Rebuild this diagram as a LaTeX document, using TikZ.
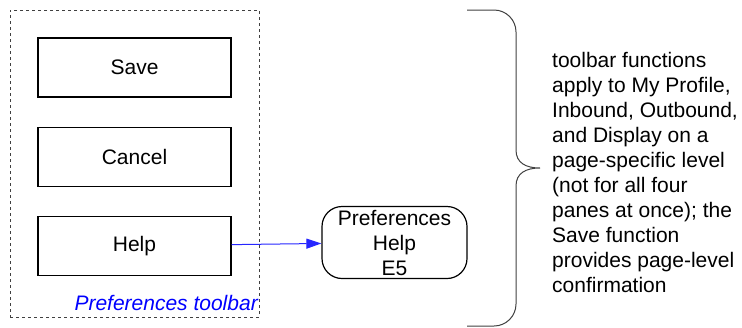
\documentclass[tikz,border=0pt]{standalone}
\usepackage{fontspec}
\setmainfont{Liberation Sans}
\usepackage{xcolor}
\usepackage{tikz}
\usetikzlibrary{arrows.meta,positioning}

\begin{document}
\begin{tikzpicture}[
    x=1pt, y=-1pt,
    node distance=29pt,
    txt/.style={font=\fontsize{21}{25}\selectfont},
    box/.style={rectangle, draw, line width=1.2pt, minimum width=193pt, minimum height=59pt, align=center, txt},
    group/.style={rectangle, draw=black!75, dashed, line width=0.8pt, minimum width=249pt, minimum height=307pt},
    rbox/.style={rectangle, draw, line width=1.2pt, rounded corners=20pt, minimum width=145pt, minimum height=72pt, inner sep=0pt, align=center, txt},
    arrow/.style={-{Triangle[length=15pt,width=10pt]}, line width=1pt, blue!85!white},
    bracestyle/.style={draw=black!75, line width=1pt}
]
\useasboundingbox (0,0) rectangle (742,327);

% Toolbar buttons
\node[group] (toolbar) at (134.5,163.5) {};
\node[box] (save) at (134.5,67.5) {Save};
\node[box, below=of save] (cancel) {Cancel};
\node[box, below=of cancel] (help) {Help};
\node[txt, text=blue, anchor=base east, inner sep=0pt] (tblabel) at (258,310) {\itshape Preferences toolbar};

% Help page
\node[rbox] (prefhelp) at (394.5,242.5) {Preferences\\Help\\E5};
\draw[arrow] (help) -- (prefhelp);

% Brace and note
\draw[bracestyle] (467,10) -- (494,10) arc[start angle=-90, end angle=0, radius=22]
    -- (516,150) .. controls (516,163) and (526,168) .. (540,168)
    .. controls (526,168) and (516,173) .. (516,186)
    -- (516,304) arc[start angle=0, end angle=90, radius=22] -- (467,326);
\node[txt, align=left, anchor=west, inner sep=0pt] (note) at (552,172) {toolbar functions\\apply to My Profile,\\Inbound, Outbound,\\and Display on a\\page-specific level\\(not for all four\\panes at once); the\\Save function\\provides page-level\\confirmation};

\end{tikzpicture}
\end{document}
